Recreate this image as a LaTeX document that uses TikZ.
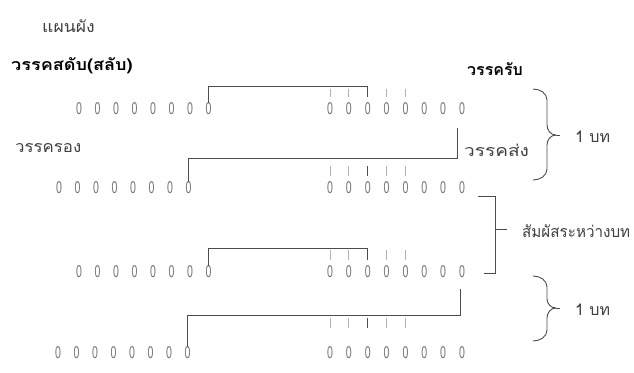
\documentclass[tikz,border=0pt]{standalone}
\usepackage{fontspec}
\setmainfont{Liberation Sans}
\newfontfamily\thaifont[Script=Thai]{Loma}
\usetikzlibrary{calc}
\begin{document}
\begin{tikzpicture}[x=1pt,y=-1pt,
  zero/.style={inner sep=0pt,text=black!55,font=\fontsize{17}{17}\selectfont},
  lbl/.style={inner sep=0pt,text=black!75,font=\thaifont\fontsize{16}{16}\selectfont,anchor=west},
  blbl/.style={inner sep=0pt,text=black,font=\thaifont\bfseries\fontsize{16}{16}\selectfont,anchor=west},
  conn/.style={draw=black!70,line width=0.9pt},
  tick/.style={draw=black!30,line width=0.8pt},
  dtick/.style={draw=black!70,line width=0.9pt},
  brace/.style={draw=black!70,line width=0.9pt}]
\useasboundingbox (0,0) rectangle (634,372);
% texts
\node[lbl] (title) at (42,26) {\scalebox{1.1}[1]{แผนผัง}};
\node[blbl] (sadap) at (11,66) {\scalebox{1.13}[1]{วรรคสดับ(สลับ)}};
\node[blbl] (rap) at (467,69) {วรรครับ};
\node[lbl] (rong) at (15,148) {\scalebox{1.05}[1]{วรรครอง}};
\node[lbl] (song) at (464,150) {\scalebox{1.19}[1]{วรรคส่ง}};
\node[lbl] (bot1) at (575,137) {1 บท};
\node[lbl] (samphat) at (522,231) {\scalebox{0.95}[1]{สัมผัสระหว่างบท}};
\node[lbl] (bot2) at (575,310) {1 บท};
% zeros
\foreach \r/\lx/\ly/\ry in {a/79/109/109, b/59/188/188, c/79/272/272, d/58/353/353}{
  \foreach \i in {1,...,8}{
    \node[zero] (\r l\i) at ({\lx+(\i-1)*18.5},\ly) {\scalebox{0.62}[1]{0}};
    \node[zero] (\r r\i) at ({330+(\i-1)*18.86},\ry) {\scalebox{0.62}[1]{0}};
  }
}
% level coordinates
\coordinate (La) at (0,86);  \coordinate (Ta) at (0,97);  \coordinate (Sa) at (0,89);
\coordinate (Lb) at (0,158); \coordinate (Tb) at (0,176); \coordinate (Sb) at (0,166);
\coordinate (Lc) at (0,248); \coordinate (Tc) at (0,260); \coordinate (Sc) at (0,250);
\coordinate (Ld) at (0,315); \coordinate (Td) at (0,328); \coordinate (Sd) at (0,318);
% ticks
\foreach \r in {a,b,c,d}{
  \foreach \i in {1,2,4,5}{
    \draw[tick] (\r r\i |- S\r) -- (\r r\i |- T\r);
  }
}
\draw[dtick] (br3 |- Sb) -- (br3 |- Tb);
\draw[dtick] (dr3 |- Sd) -- (dr3 |- Td);
% connectors
\draw[conn] (al8.north) -- (al8 |- La) -- (ar3 |- La) -- (ar3 |- Ta);
\coordinate (ua) at ($(ar8.south)+(-5,13)$);
\draw[conn] (bl8.north) -- (bl8 |- Lb) -- (ua |- Lb) -- (ua);
\draw[conn] (cl8.north) -- (cl8 |- Lc) -- (cr3 |- Lc) -- (cr3 |- Tc);
\coordinate (uc) at ($(cr8.south)+(-2,11)$);
\draw[conn] (dl8.north) -- (dl8 |- Ld) -- (uc |- Ld) -- (uc);
% braces
\coordinate (tip1) at (556,135);
\draw[brace] (533,89) to[out=0,in=90] (547,100) -- (547,125) to[out=-90,in=180] (tip1)
  (tip1) to[out=180,in=90] (547,145) -- (547,169) to[out=-90,in=0] (533,180);
\draw[brace] (tip1) -- ++(4,0);
\coordinate (tip2) at (495,229);
\draw[brace] (478,196) -- (495,196) -- (495,273) -- (484,273);
\draw[brace] (tip2) -- ++(12,0);
\coordinate (tip3) at (556,308);
\draw[brace] (533,276) to[out=0,in=90] (547,287) -- (547,299) to[out=-90,in=180] (tip3)
  (tip3) to[out=180,in=90] (547,318) -- (547,330) to[out=-90,in=0] (533,341);
\draw[brace] (tip3) -- ++(4,0);
\end{tikzpicture}
\end{document}
